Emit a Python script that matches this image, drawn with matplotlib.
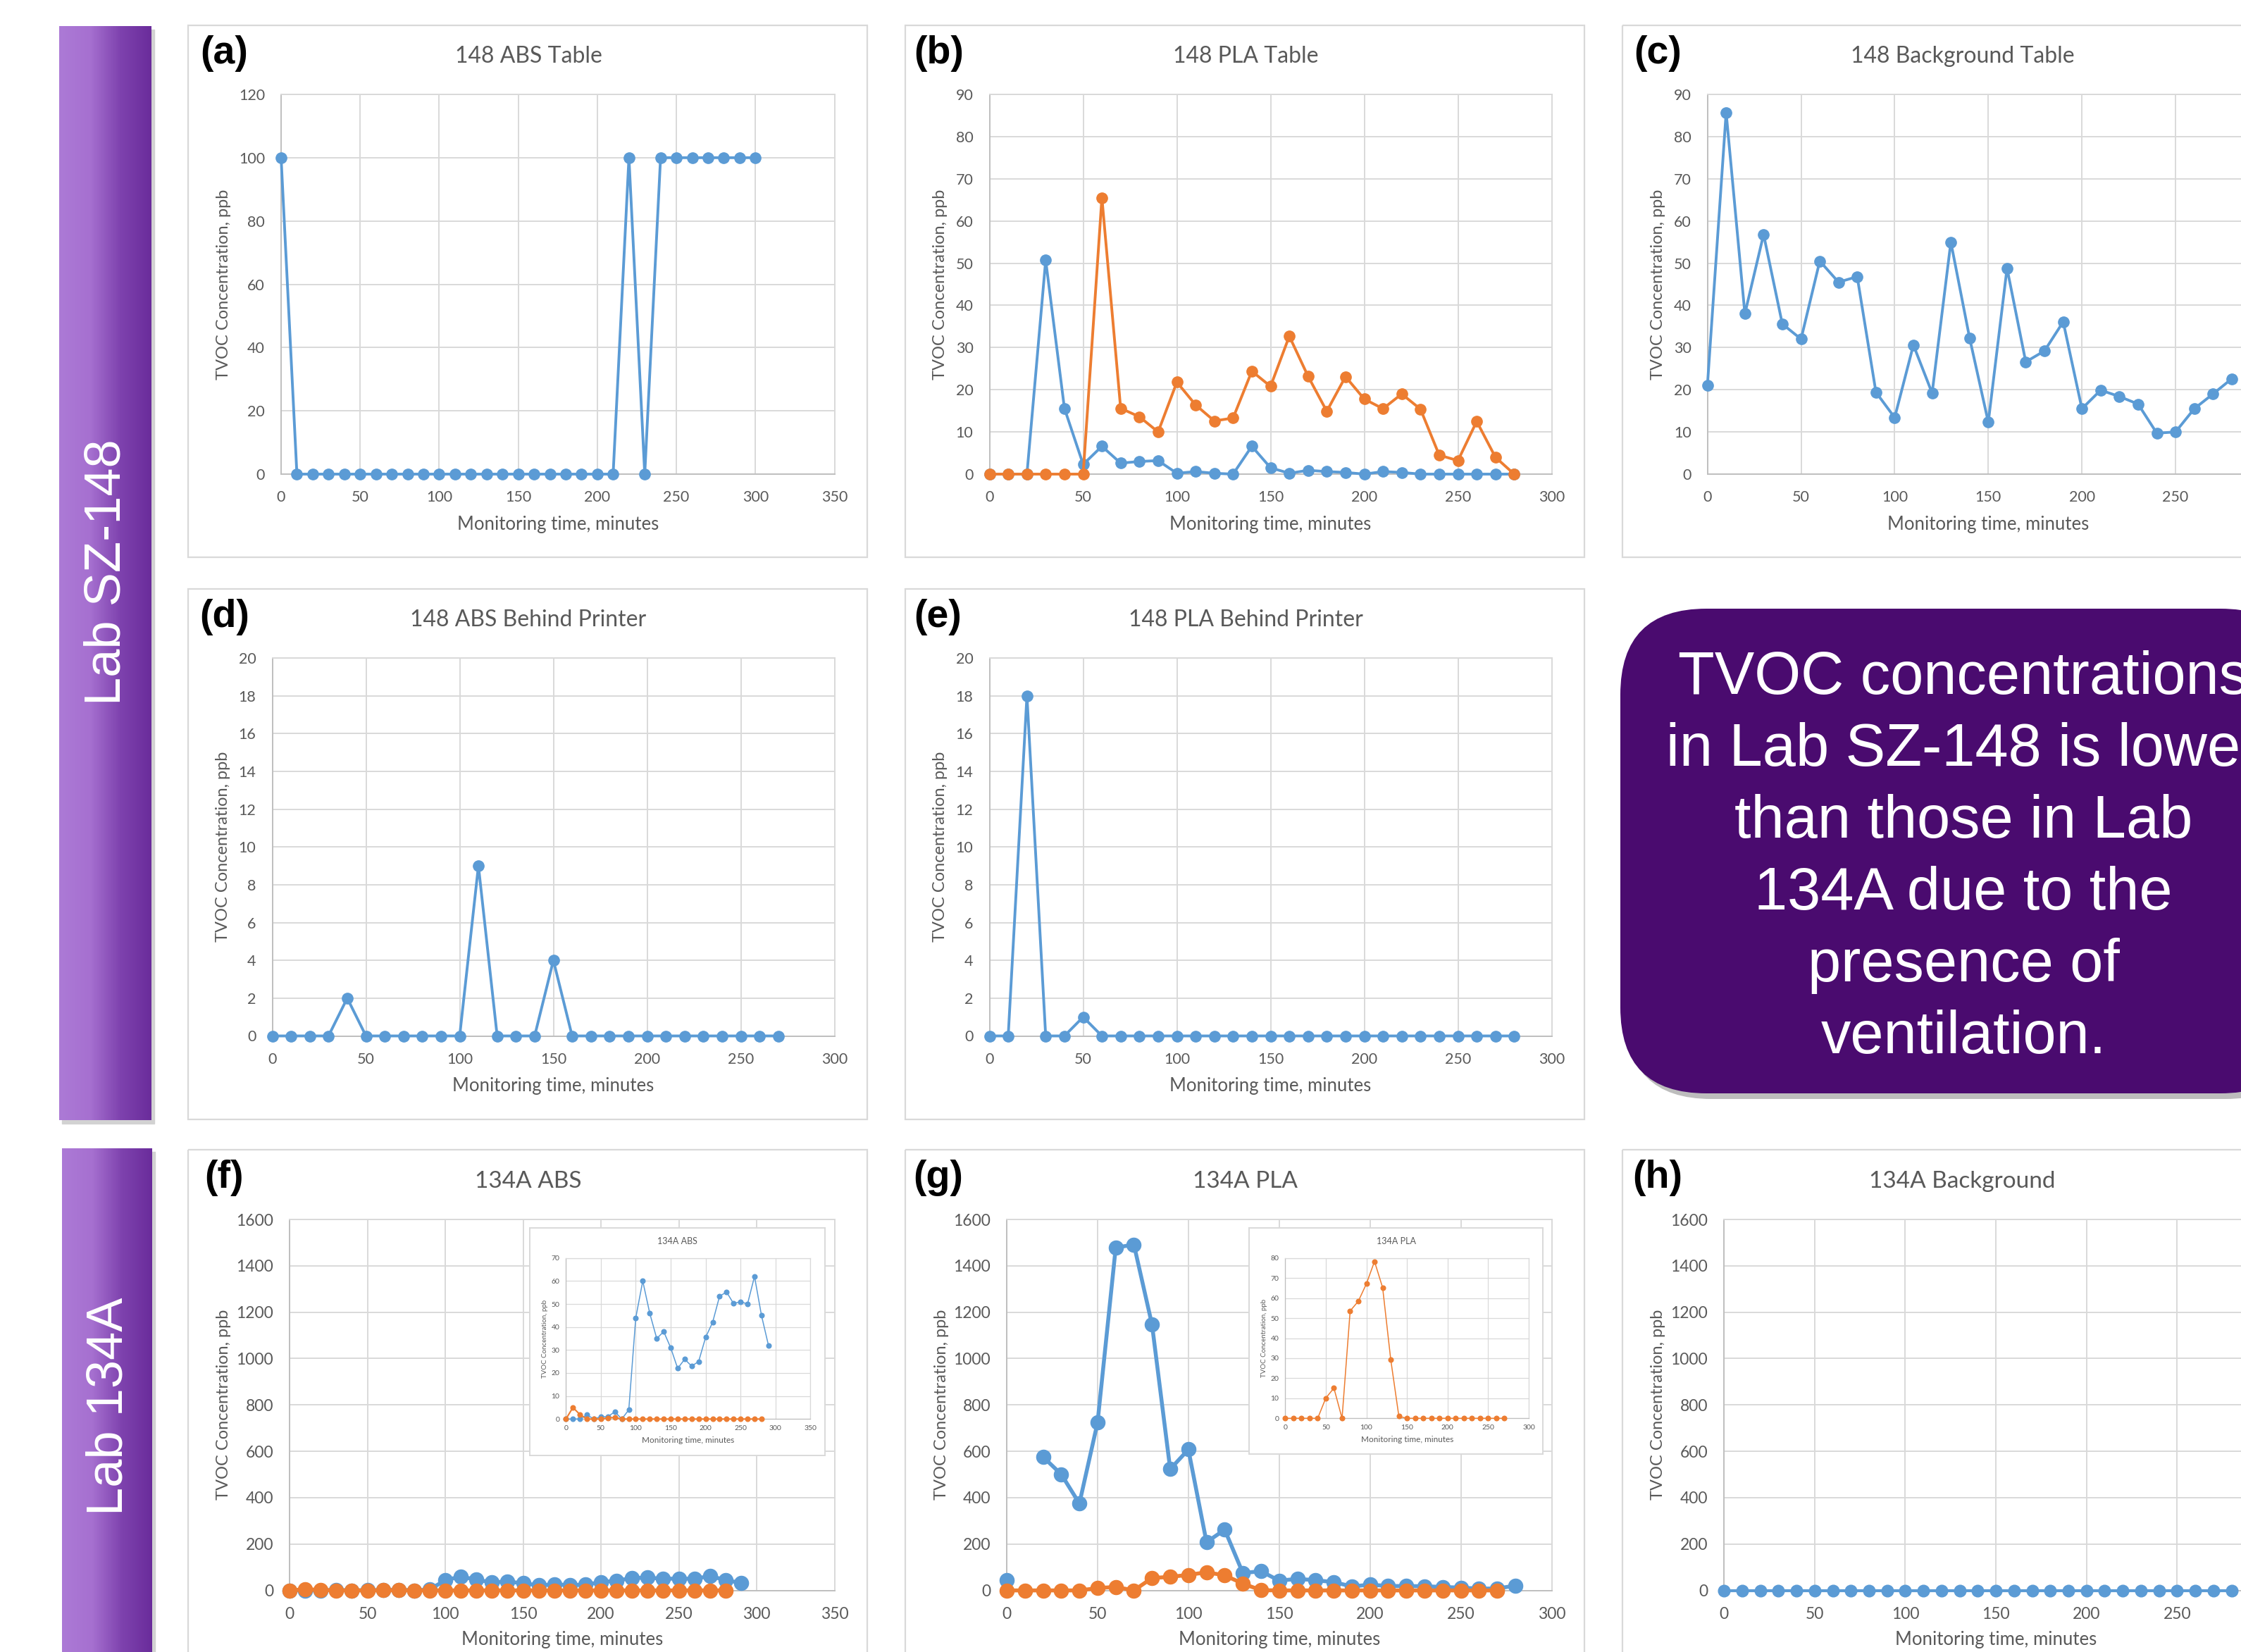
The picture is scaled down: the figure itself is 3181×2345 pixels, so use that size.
import numpy as np
import matplotlib.pyplot as plt
from matplotlib.patches import Rectangle, FancyBboxPatch
from matplotlib.colors import LinearSegmentedColormap

plt.rcParams["font.family"] = ["Lato", "DejaVu Sans"]

W, H = 3181, 2345
BLUE = "#5B9BD5"
ORANGE = "#ED7D31"
GRID = "#D9D9D9"
AXIS = "#BFBFBF"
TEXT = "#595959"

# ---------------- data: TVOC concentration (ppb) vs monitoring time (min) ----------------
t_0_300 = np.arange(0, 301, 10)
t_0_290 = np.arange(0, 291, 10)
t_0_280 = np.arange(0, 281, 10)
t_0_270 = np.arange(0, 271, 10)

# (a) 148 ABS Table
abs_148_table = [100, 0, 0, 0, 0, 0, 0, 0, 0, 0, 0,
                 0, 0, 0, 0, 0, 0, 0, 0, 0, 0, 0,
                 100, 0, 100, 100, 100, 100, 100, 100, 100]

# (b) 148 PLA Table
pla_148_table_blue = [0, 0, 0, 50.7, 15.6, 2.3, 6.6, 2.6, 3.0, 3.2,
                      0.2, 0.6, 0.2, 0, 6.6, 1.5, 0.2, 0.9, 0.6, 0.4,
                      0, 0.6, 0.4, 0, 0, 0, 0, 0, 0]
pla_148_table_orange = [0, 0, 0, 0, 0, 0, 65.5, 15.6, 13.6, 10.0,
                        21.8, 16.4, 12.6, 13.3, 24.4, 20.8, 32.7, 23.2, 14.9, 23.1,
                        17.8, 15.5, 19.0, 15.4, 4.5, 3.2, 12.5, 4.0, 0]

# (c) 148 Background Table
bg_148_table = [21.0, 85.7, 38.0, 56.8, 35.6, 32.0, 50.5, 45.5, 46.8, 19.4,
                13.4, 30.6, 19.2, 55.0, 32.3, 12.3, 48.8, 26.6, 29.2, 36.1,
                15.5, 19.9, 18.4, 16.6, 9.7, 10.0, 15.5, 19.0, 22.6]

# (d) 148 ABS Behind Printer
abs_148_behind = [0, 0, 0, 0, 2, 0, 0, 0, 0, 0,
                  0, 9, 0, 0, 0, 4, 0, 0, 0, 0,
                  0, 0, 0, 0, 0, 0, 0, 0]

# (e) 148 PLA Behind Printer
pla_148_behind = [0, 0, 18, 0, 0, 1, 0, 0, 0, 0,
                  0, 0, 0, 0, 0, 0, 0, 0, 0, 0,
                  0, 0, 0, 0, 0, 0, 0, 0, 0]

# (f) 134A ABS
abs_134_blue = [0, 0, 0, 1.8, 0, 1.0, 1.0, 3.2, 0, 4.0,
                44.0, 60.0, 46.0, 35.0, 38.0, 31.0, 22.0, 26.0, 23.0, 25.0,
                35.5, 42.0, 53.4, 55.2, 50.2, 51.0, 50.0, 62.0, 45.0, 32.0]
abs_134_orange = [0, 5.0, 2.0, 0, 0, 0, 0.5, 0.7, 0, 0,
                  0, 0, 0, 0, 0, 0, 0, 0, 0, 0,
                  0, 0, 0, 0, 0, 0, 0, 0, 0]

# (g) 134A PLA
pla_134_blue = [45.7, np.nan, 576, 501, 375, 724, 1478, 1492, 1146, 523,
                608, 208, 262, 75, 83, 42, 50, 44, 36, 17,
                25, 19, 19, 18, 15, 12, 8, 8, 21]
pla_134_orange = [0, 0, 0, 0, 0, 10.1, 15.1, 0, 53.6, 58.4,
                  67.1, 78.3, 65.2, 29.3, 1.0, 0, 0, 0, 0, 0,
                  0, 0, 0, 0, 0, 0, 0, 0]

# (h) 134A Background
bg_134 = [0, 0, 0, 0, 0, 0, 0, 0, 0, 0,
          0, 0, 0, 0, 0, 0, 0, 0, 0, 0,
          0, 0, 0, 0, 0, 0, 0, 0, 0]

summary = ["TVOC concentrations", "in Lab SZ-148 is lower", "than those in Lab",
           "134A due to the", "presence of", "ventilation."]

# ---------------- figure ----------------
fig = plt.figure(figsize=(W / 100, H / 100), dpi=100)
bg = fig.add_axes([0, 0, 1, 1])
bg.set_zorder(0)
bg.axis("off")


def chart(box, xmax, ymax, ystep, xlab_off, ylab_off, tick_fs=15.5, lab_fs=18.5,
          pad_px=23, z=1, grid_lw=1.4):
    l, t, r, b = box
    ax = fig.add_axes([l / W, 1 - b / H, (r - l) / W, (b - t) / H])
    ax.set_zorder(z)
    ax.set_xlim(0, xmax)
    ax.set_ylim(0, ymax)
    ax.set_xticks(range(0, xmax + 1, 50))
    ax.set_yticks(range(0, ymax + 1, ystep))
    ax.grid(True, color=GRID, lw=grid_lw)
    ax.set_axisbelow(True)
    for side in ("top", "right"):
        ax.spines[side].set_color(GRID)
    for side in ("left", "bottom"):
        ax.spines[side].set_color(AXIS)
    for sp in ax.spines.values():
        sp.set_linewidth(grid_lw)
    ax.tick_params(length=0, labelsize=tick_fs, labelcolor=TEXT, pad=pad_px * 0.72)
    ax.set_xlabel("Monitoring time, minutes", fontsize=lab_fs, color=TEXT, va="center")
    ax.set_ylabel("TVOC Concentration, ppb", fontsize=lab_fs - 1.5, color=TEXT, va="center")
    ax.xaxis.set_label_coords(0.5, -xlab_off / (b - t))
    ax.yaxis.set_label_coords(-ylab_off / (r - l), 0.5)
    return ax


def series(ax, t, v, color, ms, lw):
    ax.plot(t, v, color=color, lw=lw, marker="o", ms=ms, mec=color, mfc=color,
            clip_on=False, zorder=3)


def frame(l, t, r, b):
    bg.add_patch(Rectangle((l, t), r - l, b - t, fill=False, ec=GRID, lw=1.6, zorder=1))


def panel_text(label, lxy, title, txy, title_fs=23):
    bg.text(lxy[0], lxy[1], label, fontsize=40, fontweight="bold", family="Liberation Sans",
            ha="center", va="center", color="black", zorder=2)
    bg.text(txy[0], txy[1], title, fontsize=title_fs, color=TEXT, ha="center", va="center", zorder=2)


# side bars
cmap = LinearSegmentedColormap.from_list("lab", ["#AC7AD6", "#A670D0", "#7E42AE", "#6A2C9B"])
grad = np.linspace(0, 1, 256).reshape(1, -1)
for (l, t, r, b), name, cy in [((84, 37, 215, 1590), "Lab SZ-148", 812),
                               ((88, 1630, 216, 2420), "Lab 134A", 1996)]:
    bg.add_patch(Rectangle((l + 4, t + 5), r - l, b - t, color="#D2D2D2", zorder=0.5))
    bg.imshow(grad, cmap=cmap, extent=(l, r, b, t), aspect="auto", zorder=1)
    bg.text((l + r) / 2 + 3, cy, name, rotation=90, fontsize=52, color="white",
            family="Liberation Sans", ha="center", va="center", zorder=2)

# summary box
bg.add_patch(FancyBboxPatch((2307, 872), 974, 688, boxstyle="round,pad=0,rounding_size=122",
                            fc="#BDBDBD", ec="none", zorder=0.5))
bg.add_patch(FancyBboxPatch((2300, 864), 974, 688, boxstyle="round,pad=0,rounding_size=122",
                            fc="#4A0B6F", ec="none", zorder=1))
for i, line in enumerate(summary):
    bg.text(2787, 985 + i * 102, line, fontsize=61, color="white", family="Liberation Sans",
            ha="center", va="baseline", zorder=2)

# panel frames
for box in [(267, 36, 1231, 791), (1285, 36, 2249, 791), (2303, 36, 3400, 791),
            (267, 836, 1231, 1589), (1285, 836, 2249, 1589),
            (267, 1632, 1231, 2420), (1285, 1632, 2249, 2420), (2303, 1632, 3400, 2420)]:
    frame(*box)

# (a)
ax = chart((399, 134, 1184.5, 673), 350, 120, 20, 71, 81)
series(ax, t_0_300, abs_148_table, BLUE, 11, 2.8)
panel_text("(a)", (318.5, 76), "148 ABS Table", (750, 80))

# (b)
ax = chart((1404.5, 134, 2202.5, 673), 300, 90, 10, 71, 70)
series(ax, t_0_280, pla_148_table_blue, BLUE, 11, 2.8)
series(ax, t_0_280, pla_148_table_orange, ORANGE, 11, 2.8)
panel_text("(b)", (1333, 76), "148 PLA Table", (1768, 80))

# (c)
ax = chart((2423.6, 134, 3221, 673), 300, 90, 10, 71, 70)
series(ax, t_0_280, bg_148_table, BLUE, 11, 2.8)
panel_text("(c)", (2353, 76), "148 Background Table", (2786, 80))

# (d)
ax = chart((386.5, 934, 1184.5, 1470.5), 300, 20, 2, 71, 70)
series(ax, t_0_270, abs_148_behind, BLUE, 11, 2.8)
panel_text("(d)", (318.5, 876), "148 ABS Behind Printer", (750, 880))

# (e)
ax = chart((1404.5, 934, 2202.5, 1470.5), 300, 20, 2, 71, 70)
series(ax, t_0_280, pla_148_behind, BLUE, 11, 2.8)
panel_text("(e)", (1331.5, 876), "148 PLA Behind Printer", (1768, 880))

# (f)
ax = chart((411, 1731, 1184.5, 2257.6), 350, 1600, 200, 70, 93, tick_fs=16.5)
series(ax, t_0_290, abs_134_blue, BLUE, 14.5, 4)
series(ax, t_0_280, abs_134_orange, ORANGE, 14.5, 4)
panel_text("(f)", (318, 1672), "134A ABS", (750, 1677), title_fs=24)

# (g)
ax = chart((1429, 1731, 2202.5, 2257.6), 300, 1600, 200, 70, 92.6, tick_fs=16.5)
series(ax, t_0_280, pla_134_blue, BLUE, 14.5, 4)
series(ax, t_0_270, pla_134_orange, ORANGE, 14.5, 4)
panel_text("(g)", (1331.5, 1672), "134A PLA", (1768, 1677), title_fs=24)

# (h)
ax = chart((2447.2, 1731, 3219, 2257.6), 300, 1600, 200, 70, 94, tick_fs=16.5)
series(ax, t_0_280, bg_134, BLUE, 12, 3)
panel_text("(h)", (2353, 1672), "134A Background", (2785, 1677), title_fs=24)


# insets
def inset(fbox, pbox, xmax, ymax, ystep, title, txy):
    l, t, r, b = fbox
    fr = fig.add_axes([l / W, 1 - b / H, (r - l) / W, (b - t) / H])
    fr.set_zorder(3)
    fr.set_xticks([])
    fr.set_yticks([])
    for sp in fr.spines.values():
        sp.set_color(GRID)
        sp.set_linewidth(1.4)
    fr.text(txy[0], txy[1], title, transform=bg.transData, fontsize=9, color=TEXT,
            ha="center", va="center")
    ax = chart(pbox, xmax, ymax, ystep, 30, 30, tick_fs=7.5, lab_fs=8.5, pad_px=9, z=4,
               grid_lw=0.9)
    return ax


ax = inset((751.5, 1742.5, 1171, 2065.5), (803.3, 1785.7, 1150.3, 2014.3), 350, 70, 10,
           "134A ABS", (961, 1762))
series(ax, t_0_290, abs_134_blue, BLUE, 4.8, 1.1)
series(ax, t_0_280, abs_134_orange, ORANGE, 4.8, 1.5)

ax = inset((1773, 1742.5, 2190, 2064), (1824.3, 1785.7, 2170, 2013.3), 300, 80, 10,
           "134A PLA", (1981.7, 1762))
series(ax, t_0_270, pla_134_orange, ORANGE, 4.8, 1.1)

bg.set_xlim(0, W)
bg.set_ylim(H, 0)

fig.savefig("out.png", dpi=100)
